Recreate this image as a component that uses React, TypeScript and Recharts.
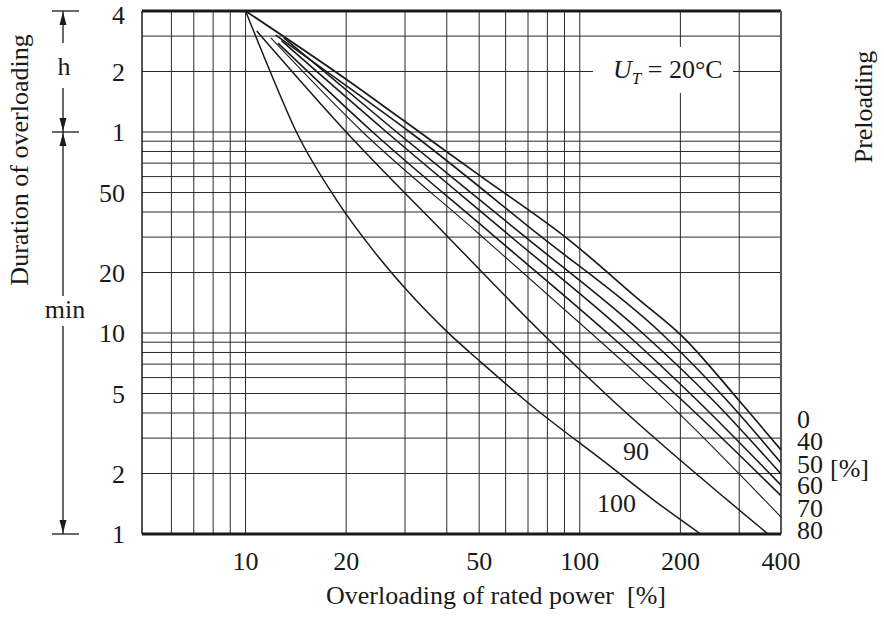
import React from "react";
import { LineChart, Line, XAxis, YAxis, ReferenceLine } from "recharts";

// Overload duration vs. overload level on log-log axes, one curve per preloading.
const FONT = '"Liberation Serif", "Times New Roman", serif';
const INK = "#1a1a1a";

const X_TICKS = [10, 20, 50, 100, 200, 400];
const Y_TICKS = [1, 2, 5, 10, 20, 50, 100, 200, 400]; // minutes; top three shown in hours
const X_GRID = [6, 7, 8, 9, 10, 20, 30, 40, 50, 60, 70, 80, 90, 100, 200, 300];
const Y_GRID = [2, 3, 4, 5, 6, 7, 8, 9, 10, 20, 30, 40, 50, 60, 70, 80, 90, 100, 200, 300];

// overloading [%] -> duration [min]
const PRE_0 = [
  { x: 10, y: 400 }, { x: 20, y: 183 }, { x: 29.5, y: 115 }, { x: 50, y: 61 },
  { x: 93, y: 29 }, { x: 150, y: 14.7 }, { x: 203, y: 9.6 }, { x: 300, y: 4.6 }, { x: 400, y: 2.62 },
];
const PRE_40 = [
  { x: 12.3, y: 304 }, { x: 20, y: 170 }, { x: 31, y: 100 }, { x: 75, y: 31 },
  { x: 175, y: 10 }, { x: 275, y: 4.64 }, { x: 400, y: 2.26 },
];
const PRE_50 = [
  { x: 13, y: 295 }, { x: 28.3, y: 100 }, { x: 66.5, y: 31.4 },
  { x: 154, y: 10 }, { x: 250, y: 4.64 }, { x: 400, y: 1.99 },
];
const PRE_60 = [
  { x: 12.8, y: 285 }, { x: 26.4, y: 100 }, { x: 61, y: 31 },
  { x: 137, y: 10 }, { x: 224, y: 4.64 }, { x: 400, y: 1.75 },
];
const PRE_70 = [
  { x: 12.5, y: 277 }, { x: 24, y: 100 }, { x: 54, y: 31.5 },
  { x: 121, y: 10 }, { x: 202, y: 4.64 }, { x: 400, y: 1.55 },
];
const PRE_80 = [
  { x: 11.9, y: 294 }, { x: 22.4, y: 100 }, { x: 49, y: 32 },
  { x: 108, y: 10 }, { x: 180, y: 4.64 }, { x: 400, y: 1.215 },
];
const PRE_90 = [
  { x: 10.8, y: 318 }, { x: 20, y: 100 }, { x: 40, y: 30.5 },
  { x: 77, y: 10 }, { x: 125, y: 4.64 }, { x: 366, y: 1 },
];
const PRE_100 = [
  { x: 10, y: 400 }, { x: 12, y: 190 }, { x: 14.2, y: 100 }, { x: 18.7, y: 46 },
  { x: 24, y: 26 }, { x: 30.3, y: 16.4 }, { x: 40.2, y: 10.1 }, { x: 50.9, y: 7.1 },
  { x: 70, y: 4.5 }, { x: 120, y: 2.25 }, { x: 166, y: 1.48 }, { x: 230, y: 1 },
];

const SERIES = [
  { name: "0", data: PRE_0, w: 1.7 },
  { name: "40", data: PRE_40, w: 1.6 },
  { name: "50", data: PRE_50, w: 1.6 },
  { name: "60", data: PRE_60, w: 1.6 },
  { name: "70", data: PRE_70, w: 1.6 },
  { name: "80", data: PRE_80, w: 1.1 },
  { name: "90", data: PRE_90, w: 1.5 },
  { name: "100", data: PRE_100, w: 1.5 },
];

const RIGHT_LABELS = ["0", "40", "50", "60", "70", "80"];
const RIGHT_BASELINES = [428, 450, 473, 494, 517, 539];

function Arrow({ x, y, dir }: { x: number; y: number; dir: 1 | -1 }) {
  // dir -1: tip points up, 1: tip points down
  const b = y - dir * 13;
  return <path d={`M${x} ${y} L${x - 3.5} ${b} L${x + 3.5} ${b} Z`} fill={INK} />;
}

function Overlay() {
  const t = { fontFamily: FONT, fontSize: 26, fill: INK };
  return (
    <svg
      width={884}
      height={618}
      style={{ position: "absolute", left: 0, top: 0, pointerEvents: "none" }}
    >
      {/* h / min bracket on the left */}
      <g stroke={INK} strokeWidth={1.3}>
        <line x1={52} x2={79} y1={11} y2={11} />
        <line x1={52} x2={79} y1={132} y2={132} />
        <line x1={52} x2={79} y1={534} y2={534} />
        <line x1={63} x2={63} y1={11} y2={43} />
        <line x1={63} x2={63} y1={88} y2={132} />
        <line x1={63} x2={63} y1={132} y2={296} />
        <line x1={63} x2={63} y1={326} y2={534} />
      </g>
      <Arrow x={63} y={12} dir={-1} />
      <Arrow x={63} y={131} dir={1} />
      <Arrow x={63} y={133} dir={-1} />
      <Arrow x={63} y={533} dir={1} />
      <text {...t} x={64} y={75} textAnchor="middle">h</text>
      <text {...t} x={65} y={318} textAnchor="middle">min</text>

      <text {...t} transform="translate(28 160) rotate(-90)" textAnchor="middle">
        Duration of overloading
      </text>
      <text {...t} transform="translate(872 107) rotate(-90)" textAnchor="middle">
        Preloading
      </text>

      <rect x={593} y={47} width={140} height={46} fill="#fff" />
      <text {...t} x={613} y={78}>
        <tspan fontStyle="italic">U</tspan>
        <tspan fontStyle="italic" fontSize={17} dy={6}>T</tspan>
        <tspan dy={-6}> = 20°C</tspan>
      </text>

      {RIGHT_LABELS.map((s, i) => (
        <text key={s} {...t} x={797} y={RIGHT_BASELINES[i]}>{s}</text>
      ))}
      <text {...t} x={830} y={477}>[%]</text>
      <text {...t} x={623} y={460}>90</text>
      <text {...t} x={597} y={512}>100</text>

      <text {...t} x={496} y={604} textAnchor="middle">
        Overloading of rated power{"\u00a0\u00a0"}[%]
      </text>
    </svg>
  );
}

export default function App() {
  const tick = { fontFamily: FONT, fontSize: 26, fill: INK };
  return (
    <div
      style={{
        position: "absolute",
        left: 0,
        top: 0,
        width: 884,
        height: 618,
        background: "#fff",
        fontFamily: FONT,
      }}
    >
      <LineChart
        width={884}
        height={618}
        margin={{ top: 11, right: 103, bottom: 0, left: 0 }}
      >
        <XAxis
          dataKey="x"
          type="number"
          scale="log"
          domain={[4.9, 400]}
          allowDataOverflow
          ticks={X_TICKS}
          tick={tick}
          tickLine={false}
          tickSize={0}
          tickMargin={18}
          height={84}
          axisLine={{ stroke: INK, strokeWidth: 3 }}
        />
        <YAxis
          dataKey="y"
          type="number"
          scale="log"
          domain={[1, 400]}
          allowDataOverflow
          ticks={Y_TICKS}
          tick={tick}
          tickFormatter={(v: number) => (v >= 100 ? String(v / 100) : String(v))}
          tickLine={false}
          tickSize={0}
          tickMargin={17}
          width={142}
          axisLine={{ stroke: INK, strokeWidth: 1.5 }}
        />
        {X_GRID.map((v) => (
          <ReferenceLine key={`gx${v}`} x={v} stroke="#2b2b2b" strokeWidth={1} />
        ))}
        {Y_GRID.map((v) => (
          <ReferenceLine key={`gy${v}`} y={v} stroke="#2b2b2b" strokeWidth={1} />
        ))}
        <ReferenceLine y={400} stroke={INK} strokeWidth={3} />
        <ReferenceLine x={400} stroke="#555" strokeWidth={2} />
        {SERIES.map((s) => (
          <Line
            key={s.name}
            data={s.data}
            dataKey="y"
            type="monotone"
            stroke={INK}
            strokeWidth={s.w}
            dot={false}
            activeDot={false}
            isAnimationActive={false}
          />
        ))}
      </LineChart>
      <Overlay />
    </div>
  );
}
